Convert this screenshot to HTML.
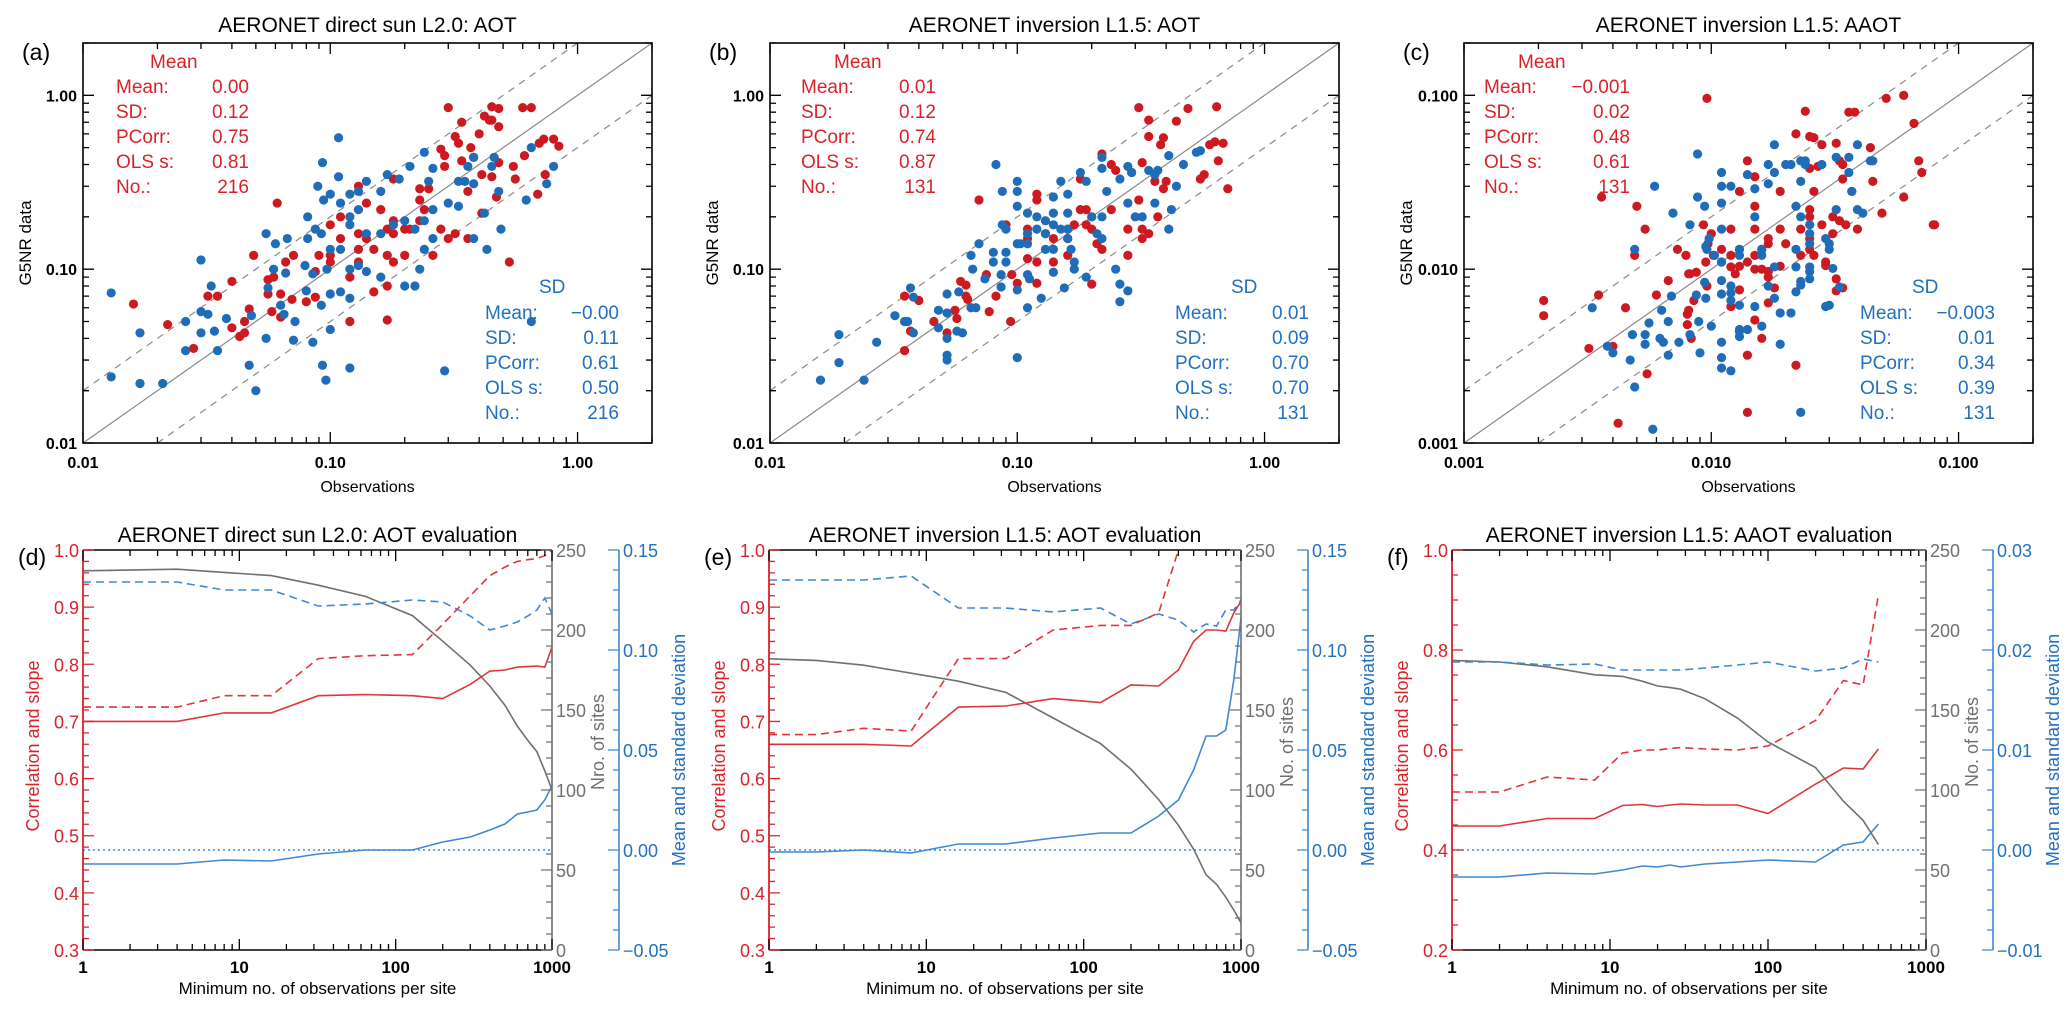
<!DOCTYPE html>
<html><head><meta charset="utf-8"><title>G5NR vs AERONET</title>
<style>
html,body{margin:0;padding:0;background:#fff;}
svg{display:block;font-family:"Liberation Sans",Arial,sans-serif;}
</style></head>
<body>
<svg id="fig" width="2067" height="1013" viewBox="0 0 2067 1013" xmlns="http://www.w3.org/2000/svg"></svg>
<script>
// ---------- scatter data (obs, model) ----------
const aRed=[[0.3,0.85],[0.45,0.86],[0.48,0.84],[0.6,0.85],[0.65,0.85],[0.34,0.7],[0.42,0.76],[0.44,0.72],[0.45,0.72],[0.48,0.66],[0.32,0.58],[0.4,0.6],[0.37,0.5],[0.33,0.53],[0.73,0.56],[0.8,0.56],[0.84,0.51],[0.7,0.53],[0.28,0.49],[0.29,0.45],[0.38,0.44],[0.34,0.42],[0.48,0.41],[0.55,0.39],[0.61,0.45],[0.29,0.39],[0.41,0.35],[0.45,0.34],[0.56,0.33],[0.74,0.35],[0.69,0.27],[0.47,0.26],[0.23,0.29],[0.25,0.29],[0.18,0.33],[0.13,0.3],[0.061,0.24],[0.23,0.25],[0.24,0.22],[0.41,0.21],[0.36,0.28],[0.14,0.24],[0.16,0.22],[0.18,0.19],[0.2,0.17],[0.23,0.19],[0.28,0.17],[0.32,0.16],[0.36,0.15],[0.3,0.15],[0.11,0.2],[0.1,0.18],[0.13,0.16],[0.14,0.15],[0.17,0.17],[0.18,0.16],[0.21,0.17],[0.11,0.15],[0.13,0.13],[0.15,0.13],[0.17,0.12],[0.18,0.11],[0.2,0.12],[0.1,0.12],[0.09,0.12],[0.1,0.11],[0.13,0.11],[0.26,0.12],[0.53,0.11],[0.049,0.12],[0.071,0.12],[0.066,0.11],[0.056,0.087],[0.059,0.09],[0.087,0.097],[0.12,0.09],[0.17,0.08],[0.15,0.074],[0.04,0.085],[0.032,0.07],[0.035,0.07],[0.016,0.063],[0.056,0.072],[0.063,0.072],[0.07,0.067],[0.08,0.065],[0.087,0.069],[0.047,0.059],[0.058,0.057],[0.063,0.053],[0.12,0.05],[0.17,0.051],[0.045,0.05],[0.04,0.046],[0.043,0.041],[0.045,0.043],[0.022,0.048],[0.028,0.035]];
const aBlue=[[0.108,0.57],[0.093,0.41],[0.108,0.34],[0.089,0.3],[0.1,0.27],[0.094,0.25],[0.12,0.27],[0.13,0.28],[0.14,0.32],[0.16,0.28],[0.17,0.35],[0.19,0.33],[0.21,0.39],[0.24,0.47],[0.26,0.38],[0.25,0.32],[0.38,0.44],[0.36,0.39],[0.46,0.44],[0.45,0.39],[0.65,0.5],[0.8,0.39],[0.75,0.31],[0.62,0.25],[0.35,0.32],[0.33,0.32],[0.38,0.31],[0.48,0.28],[0.42,0.21],[0.49,0.17],[0.43,0.13],[0.65,0.05],[0.3,0.24],[0.26,0.22],[0.33,0.23],[0.24,0.19],[0.22,0.17],[0.38,0.15],[0.081,0.2],[0.11,0.24],[0.12,0.2],[0.13,0.22],[0.12,0.18],[0.14,0.16],[0.16,0.16],[0.18,0.18],[0.2,0.19],[0.055,0.16],[0.06,0.14],[0.067,0.15],[0.081,0.15],[0.087,0.17],[0.092,0.16],[0.1,0.13],[0.11,0.13],[0.24,0.13],[0.26,0.15],[0.23,0.1],[0.2,0.08],[0.22,0.08],[0.059,0.1],[0.066,0.095],[0.079,0.105],[0.085,0.094],[0.097,0.1],[0.12,0.1],[0.13,0.105],[0.14,0.097],[0.16,0.09],[0.03,0.113],[0.033,0.08],[0.056,0.078],[0.08,0.075],[0.1,0.072],[0.11,0.074],[0.12,0.068],[0.013,0.073],[0.03,0.057],[0.032,0.055],[0.026,0.05],[0.038,0.052],[0.048,0.054],[0.072,0.05],[0.065,0.055],[0.063,0.062],[0.092,0.062],[0.1,0.045],[0.085,0.038],[0.071,0.039],[0.055,0.04],[0.03,0.043],[0.034,0.044],[0.017,0.043],[0.026,0.034],[0.035,0.034],[0.013,0.024],[0.017,0.022],[0.021,0.022],[0.047,0.028],[0.05,0.02],[0.093,0.028],[0.096,0.023],[0.12,0.027],[0.29,0.026]];
const bRed=[[0.31,0.85],[0.34,0.72],[0.44,0.71],[0.49,0.84],[0.64,0.86],[0.34,0.58],[0.39,0.57],[0.38,0.52],[0.6,0.52],[0.63,0.54],[0.68,0.53],[0.22,0.46],[0.24,0.4],[0.25,0.37],[0.32,0.41],[0.65,0.42],[0.55,0.33],[0.57,0.35],[0.71,0.29],[0.36,0.32],[0.4,0.32],[0.39,0.29],[0.29,0.36],[0.07,0.25],[0.12,0.27],[0.12,0.25],[0.18,0.33],[0.18,0.22],[0.19,0.22],[0.2,0.2],[0.19,0.18],[0.2,0.17],[0.24,0.22],[0.31,0.25],[0.37,0.2],[0.16,0.17],[0.17,0.18],[0.14,0.15],[0.16,0.15],[0.21,0.14],[0.22,0.13],[0.09,0.18],[0.11,0.17],[0.13,0.16],[0.11,0.15],[0.28,0.17],[0.32,0.17],[0.32,0.15],[0.34,0.16],[0.28,0.12],[0.11,0.115],[0.12,0.11],[0.14,0.11],[0.16,0.12],[0.075,0.093],[0.095,0.093],[0.1,0.083],[0.12,0.083],[0.2,0.082],[0.059,0.085],[0.062,0.081],[0.062,0.07],[0.063,0.067],[0.082,0.07],[0.035,0.07],[0.04,0.066],[0.077,0.057],[0.094,0.05],[0.056,0.058],[0.057,0.052],[0.046,0.05],[0.052,0.043],[0.037,0.044],[0.035,0.034]];
const bBlue=[[0.082,0.4],[0.1,0.32],[0.1,0.28],[0.087,0.28],[0.15,0.32],[0.16,0.27],[0.14,0.26],[0.1,0.23],[0.18,0.36],[0.19,0.32],[0.22,0.44],[0.22,0.38],[0.26,0.33],[0.28,0.39],[0.29,0.36],[0.23,0.28],[0.41,0.45],[0.47,0.4],[0.53,0.47],[0.55,0.48],[0.34,0.37],[0.37,0.37],[0.36,0.35],[0.44,0.3],[0.42,0.22],[0.41,0.17],[0.36,0.24],[0.28,0.24],[0.3,0.2],[0.32,0.2],[0.22,0.2],[0.2,0.2],[0.11,0.21],[0.12,0.2],[0.13,0.19],[0.14,0.21],[0.16,0.21],[0.14,0.18],[0.15,0.17],[0.16,0.17],[0.12,0.17],[0.13,0.16],[0.11,0.16],[0.087,0.18],[0.09,0.17],[0.07,0.14],[0.1,0.14],[0.103,0.14],[0.11,0.14],[0.13,0.13],[0.14,0.13],[0.16,0.15],[0.21,0.16],[0.22,0.15],[0.065,0.12],[0.08,0.125],[0.09,0.125],[0.09,0.11],[0.08,0.11],[0.165,0.13],[0.17,0.11],[0.17,0.1],[0.25,0.1],[0.19,0.09],[0.066,0.1],[0.074,0.088],[0.086,0.093],[0.11,0.093],[0.112,0.088],[0.14,0.096],[0.086,0.079],[0.1,0.076],[0.26,0.082],[0.28,0.075],[0.155,0.078],[0.26,0.065],[0.037,0.078],[0.038,0.069],[0.052,0.072],[0.058,0.074],[0.065,0.06],[0.068,0.06],[0.11,0.06],[0.125,0.068],[0.032,0.054],[0.035,0.05],[0.036,0.05],[0.048,0.058],[0.052,0.056],[0.048,0.046],[0.038,0.043],[0.057,0.044],[0.06,0.043],[0.052,0.04],[0.027,0.038],[0.019,0.042],[0.052,0.032],[0.052,0.03],[0.1,0.031],[0.019,0.029],[0.016,0.023],[0.024,0.023]];
const cRed=[[0.0096,0.096],[0.051,0.096],[0.06,0.1],[0.024,0.081],[0.036,0.08],[0.038,0.08],[0.066,0.069],[0.022,0.06],[0.025,0.058],[0.026,0.057],[0.028,0.052],[0.032,0.053],[0.044,0.05],[0.014,0.042],[0.033,0.042],[0.069,0.042],[0.071,0.036],[0.025,0.038],[0.027,0.039],[0.034,0.04],[0.015,0.034],[0.034,0.033],[0.045,0.032],[0.0036,0.026],[0.013,0.028],[0.026,0.028],[0.019,0.028],[0.037,0.028],[0.06,0.026],[0.005,0.023],[0.015,0.023],[0.025,0.022],[0.049,0.021],[0.079,0.018],[0.08,0.018],[0.0054,0.017],[0.0093,0.018],[0.019,0.017],[0.023,0.017],[0.025,0.02],[0.028,0.018],[0.031,0.02],[0.033,0.019],[0.035,0.018],[0.039,0.017],[0.01,0.016],[0.012,0.017],[0.015,0.017],[0.017,0.015],[0.02,0.014],[0.025,0.015],[0.031,0.016],[0.0073,0.013],[0.0079,0.012],[0.0097,0.014],[0.0102,0.012],[0.011,0.013],[0.012,0.012],[0.013,0.013],[0.014,0.011],[0.015,0.012],[0.016,0.013],[0.017,0.014],[0.023,0.012],[0.025,0.013],[0.026,0.012],[0.0049,0.012],[0.0095,0.011],[0.011,0.011],[0.012,0.0103],[0.013,0.0104],[0.015,0.01],[0.016,0.01],[0.017,0.0097],[0.019,0.0104],[0.029,0.011],[0.029,0.0105],[0.0087,0.0096],[0.0081,0.0094],[0.0082,0.0094],[0.0067,0.0086],[0.0096,0.008],[0.0125,0.0094],[0.017,0.009],[0.018,0.0078],[0.032,0.0088],[0.032,0.0075],[0.034,0.0078],[0.006,0.0071],[0.0085,0.0066],[0.013,0.0076],[0.012,0.0061],[0.017,0.0064],[0.0035,0.0071],[0.0045,0.006],[0.0021,0.0066],[0.0021,0.0054],[0.0081,0.0058],[0.008,0.0055],[0.008,0.0048],[0.015,0.0051],[0.013,0.0044],[0.016,0.004],[0.0083,0.004],[0.004,0.0036],[0.0032,0.0035],[0.014,0.0032],[0.022,0.0028],[0.0055,0.0025],[0.014,0.0015],[0.0042,0.0013]];
const cBlue=[[0.0088,0.046],[0.018,0.052],[0.039,0.052],[0.044,0.042],[0.045,0.042],[0.023,0.042],[0.024,0.042],[0.024,0.04],[0.028,0.04],[0.017,0.04],[0.02,0.04],[0.021,0.04],[0.032,0.044],[0.036,0.044],[0.011,0.036],[0.014,0.035],[0.018,0.036],[0.036,0.036],[0.0059,0.03],[0.011,0.03],[0.012,0.03],[0.015,0.029],[0.017,0.031],[0.023,0.032],[0.0088,0.026],[0.0094,0.023],[0.011,0.024],[0.037,0.028],[0.022,0.023],[0.032,0.022],[0.039,0.022],[0.041,0.021],[0.007,0.021],[0.0082,0.018],[0.011,0.017],[0.015,0.02],[0.023,0.02],[0.025,0.018],[0.025,0.016],[0.0098,0.015],[0.0095,0.0135],[0.0096,0.013],[0.013,0.013],[0.016,0.013],[0.022,0.013],[0.025,0.014],[0.029,0.015],[0.03,0.014],[0.03,0.013],[0.0049,0.013],[0.0103,0.012],[0.011,0.011],[0.013,0.012],[0.016,0.012],[0.018,0.0103],[0.022,0.0103],[0.025,0.0103],[0.031,0.0101],[0.025,0.0097],[0.0094,0.0084],[0.011,0.0086],[0.012,0.008],[0.012,0.0073],[0.011,0.0072],[0.017,0.008],[0.023,0.0085],[0.023,0.0081],[0.022,0.0074],[0.025,0.0088],[0.033,0.0079],[0.0069,0.007],[0.0087,0.0071],[0.0095,0.0068],[0.012,0.0066],[0.013,0.0062],[0.015,0.0061],[0.018,0.0068],[0.029,0.0061],[0.03,0.0062],[0.0033,0.006],[0.0063,0.0058],[0.0056,0.0049],[0.0067,0.005],[0.0089,0.005],[0.019,0.0056],[0.021,0.0056],[0.01,0.0047],[0.016,0.0047],[0.0048,0.0042],[0.0054,0.0042],[0.0082,0.0042],[0.013,0.0045],[0.013,0.0041],[0.014,0.0045],[0.0062,0.004],[0.0064,0.0038],[0.0074,0.0038],[0.011,0.0038],[0.019,0.0037],[0.0054,0.0037],[0.0038,0.0036],[0.004,0.0033],[0.0047,0.003],[0.0067,0.0032],[0.009,0.0033],[0.011,0.0031],[0.011,0.0027],[0.012,0.0026],[0.0049,0.0021],[0.0058,0.0012],[0.023,0.0015]];
// ---------- statistics ----------
const statLabels=["Mean:","SD:","PCorr:","OLS s:","No.:"];
const aMeanStats=["0.00","0.12","0.75","0.81","216"];
const aSdStats=["\u22120.00","0.11","0.61","0.50","216"];
const bMeanStats=["0.01","0.12","0.74","0.87","131"];
const bSdStats=["0.01","0.09","0.70","0.70","131"];
const cMeanStats=["\u22120.001","0.02","0.48","0.61","131"];
const cSdStats=["\u22120.003","0.01","0.34","0.39","131"];
// ---------- evaluation line data ----------
const dX=[1,4,8,16,32,64,128,200,300,400,500,600,700,800,900,1000];
const dCorr=[0.70,0.70,0.715,0.715,0.745,0.747,0.745,0.74,0.765,0.788,0.79,0.795,0.796,0.797,0.795,0.83];
const dSlope=[0.725,0.725,0.745,0.745,0.81,0.815,0.817,0.87,0.92,0.955,0.97,0.98,0.983,0.985,0.99,1.0];
const dSites=[237,238,236,234,228,221,209,193,178,165,153,140,131,124,112,100];
const dMean=[-0.007,-0.007,-0.005,-0.0055,-0.002,0.0,0.0,0.004,0.0065,0.01,0.013,0.018,0.019,0.02,0.025,0.032];
const dSd=[0.134,0.134,0.13,0.13,0.122,0.123,0.125,0.124,0.117,0.11,0.112,0.114,0.117,0.12,0.126,0.118];
const eX=[1,2,4,8,16,32,64,128,200,300,400,500,600,700,800,900,1000];
const eCorr=[0.66,0.66,0.66,0.657,0.725,0.727,0.74,0.733,0.764,0.762,0.79,0.84,0.86,0.86,0.858,0.89,0.91];
const eSlopeX=[1,2,4,8,16,32,64,128,200,300,400];
const eSlope=[0.677,0.677,0.688,0.683,0.81,0.81,0.86,0.868,0.868,0.89,1.0];
const eSites=[182,181,178,173,168,161,145,129,113,94,78,63,47,41,33,25,17];
const eMean=[-0.001,-0.001,0.0,-0.0015,0.003,0.003,0.006,0.0085,0.0085,0.017,0.025,0.04,0.057,0.057,0.06,0.085,0.116];
const eSd=[0.135,0.135,0.135,0.137,0.121,0.121,0.119,0.121,0.113,0.118,0.115,0.109,0.113,0.112,0.12,0.12,0.125];
const fX=[1,2,4,8,12,16,20,24,28,40,64,100,200,300,400,500];
const fCorr=[0.448,0.448,0.463,0.463,0.489,0.491,0.487,0.49,0.492,0.49,0.49,0.473,0.532,0.564,0.562,0.602];
const fSlope=[0.516,0.516,0.546,0.54,0.594,0.6,0.6,0.603,0.605,0.602,0.6,0.608,0.659,0.739,0.73,0.91];
const fSites=[181,180,177,172,171,168,165,164,163,157,145,130,114,93,81,66];
const fMean=[-0.0027,-0.0027,-0.0023,-0.0024,-0.002,-0.0016,-0.0017,-0.0015,-0.0017,-0.0014,-0.0012,-0.001,-0.0012,0.0005,0.0008,0.0026];
const fSd=[0.0188,0.0188,0.0185,0.0186,0.018,0.018,0.018,0.018,0.018,0.0182,0.0185,0.0188,0.0179,0.0182,0.0191,0.0188];

const RED="#d8232a", BLUE="#2270bf", LRED="#e0353b", LBLUE="#3f88d2", GRAY="#707070";
const svg=document.getElementById('fig');
const NS="http://www.w3.org/2000/svg";
function el(tag,attrs,parent){const e=document.createElementNS(NS,tag);for(const k in attrs)e.setAttribute(k,attrs[k]);(parent||svg).appendChild(e);return e;}
function txt(s,x,y,size,fill,anchor,parent,extra){const t=el('text',Object.assign({x:x,y:y,'font-size':size,fill:fill,'text-anchor':anchor||'start'},extra||{}),parent);t.textContent=s;return t;}
function lg(v){return Math.log10(v);}
function logPos(v,v0,v1,p0,p1){return p0+(lg(v)-lg(v0))/(lg(v1)-lg(v0))*(p1-p0);}
function linPos(v,v0,v1,p0,p1){return p0+(v-v0)/(v1-v0)*(p1-p0);}

// ---------- scatter panels ----------
function scatter(cfg){
  const g=el('g',{});
  
  
  const L=cfg.L,R=cfg.L+569,T=43,B=443;
  const xp=v=>logPos(v,cfg.min,cfg.max,L,R), yp=v=>logPos(v,cfg.min,cfg.max,B,T);
  const t=txt(cfg.title,(L+R)/2,32,21,'#000','middle',g);
  
  const pl=txt(cfg.label,L-61,60,23,'#000','start',g);
  
  // reference lines
  const lines=[[1,'none'],[2,'7,6'],[0.5,'7,6']];
  lines.forEach(([f,d])=>{
    const x0=cfg.min,x1=cfg.max;
    let ya=x0*f,yb=x1*f,xa=x0,xb=x1;
    if(ya<cfg.min){ya=cfg.min;xa=cfg.min/f;} if(yb>cfg.max){yb=cfg.max;xb=cfg.max/f;}
    const ln=el('line',{x1:xp(xa),y1:yp(ya),x2:xp(xb),y2:yp(yb),stroke:'#8a8a8a','stroke-width':1.2,'stroke-dasharray':d},g);
    
    
  });
  // points
  cfg.red.forEach(p=>{const c=el('circle',{cx:xp(p[0]),cy:yp(p[1]),r:4.6,fill:'#cc1a20'},g);
    });
  cfg.blue.forEach(p=>{const c=el('circle',{cx:xp(p[0]),cy:yp(p[1]),r:4.6,fill:'#1f6db8'},g);
    });
  // box
  const box=el('rect',{x:L,y:T,width:R-L,height:B-T,fill:'none',stroke:'#000','stroke-width':1.6},g);
  
  // ticks
  let tk='';
  const d0=Math.round(lg(cfg.min)), d1=Math.ceil(lg(cfg.max));
  for(let d=d0;d<=d1;d++){for(let m=1;m<10;m++){const v=m*Math.pow(10,d);if(v<cfg.min-1e-12||v>cfg.max+1e-12)continue;
    const len=m===1?11:6;const x=xp(v),y=yp(v);
    tk+=`M${x},${B}v${-len}M${x},${T}v${len}M${L},${y}h${len}M${R},${y}h${-len}`;}}
  el('path',{d:tk,stroke:'#000','stroke-width':1.3,fill:'none'},g);
  cfg.ticks.forEach((s,i)=>{const v=cfg.min*Math.pow(10,i);
    const a=txt(s,xp(v),468,16,'#000','middle',g,{'font-weight':'bold'});
    
    const b=txt(s,L-6,yp(v)+6,16,'#000','end',g,{'font-weight':'bold'});
    });
  const xt=txt('Observations',(L+R)/2,492,16,'#000','middle',g);
  
  const yt=txt('G5NR data',0,0,17,'#000','middle',g,{transform:`translate(${L-52},243) rotate(-90)`});
  
  // stats
  const sm=el('g',{},g);
  
  txt('Mean',L+cfg.mh,68,19,RED,'start',sm);
  statLabels.forEach((s,i)=>{txt(s,L+cfg.ml,93+25*i,19,RED,'start',sm);txt(cfg.meanStats[i],L+166,93+25*i,19,RED,'end',sm);});
  const ss=el('g',{},g);
  
  txt('SD',L+cfg.sh,293,19,BLUE,'start',ss);
  statLabels.forEach((s,i)=>{txt(s,L+cfg.sl,319+25*i,19,BLUE,'start',ss);txt(cfg.sdStats[i],L+cfg.sr,319+25*i,19,BLUE,'end',ss);});
}
scatter({name:'panel-a',L:83,min:0.01,max:2,title:'AERONET direct sun L2.0: AOT',label:'(a)',red:aRed,blue:aBlue,ticks:['0.01','0.10','1.00'],meanStats:aMeanStats,sdStats:aSdStats,mh:67,ml:33,sh:456,sl:402,sr:536});
scatter({name:'panel-b',L:770,min:0.01,max:2,title:'AERONET inversion L1.5: AOT',label:'(b)',red:bRed,blue:bBlue,ticks:['0.01','0.10','1.00'],meanStats:bMeanStats,sdStats:bSdStats,mh:64,ml:31,sh:461,sl:405,sr:539});
scatter({name:'panel-c',L:1464,min:0.001,max:0.2,title:'AERONET inversion L1.5: AAOT',label:'(c)',red:cRed,blue:cBlue,ticks:['0.001','0.010','0.100'],meanStats:cMeanStats,sdStats:cSdStats,mh:54,ml:20,sh:448,sl:396,sr:531});

// ---------- evaluation panels ----------
function evalPanel(cfg){
  const g=el('g',{});
  
  
  const L=cfg.L,R=cfg.R,T=550,B=950,BX=R+67;
  const xp=v=>logPos(v,1,1000,L,R);
  const yl=v=>linPos(v,cfg.lmin,cfg.lmax,B,T);
  const yg=v=>linPos(v,0,250,B,T);
  const yb=v=>linPos(v,cfg.bmin,cfg.bmax,B,T);
  const t=txt(cfg.title,(L+R)/2,542,21,'#000','middle',g);
  
  const pl=txt(cfg.label,L-65,565,23,'#000','start',g);
  
  // zero line
  const z=el('line',{x1:L,x2:R,y1:yb(0),y2:yb(0),stroke:LBLUE,'stroke-width':1.5,'stroke-dasharray':'2,3'},g);
  
  function series(xs,ys,yf,col,dash,name){
    const d=xs.map((x,i)=>(i?'L':'M')+xp(x).toFixed(1)+','+yf(ys[i]).toFixed(1)).join('');
    const p=el('path',{d:d,fill:'none',stroke:col,'stroke-width':1.6,'stroke-dasharray':dash},g);
    
  }
  series(cfg.x,cfg.sites,yg,GRAY,'none','sites-line');
  series(cfg.x,cfg.sd,yb,LBLUE,'8,5','sd-line');
  series(cfg.x,cfg.mean,yb,LBLUE,'none','mean-line');
  series(cfg.slopeX||cfg.x,cfg.slope,yl,LRED,'8,5','slope-line');
  series(cfg.x,cfg.corr,yl,LRED,'none','correlation-line');
  // frame
  el('line',{x1:L,x2:R,y1:T,y2:T,stroke:'#000','stroke-width':1.6},g);
  el('line',{x1:L,x2:R,y1:B,y2:B,stroke:'#000','stroke-width':1.6},g);
  el('line',{x1:L,x2:L,y1:T,y2:B,stroke:RED,'stroke-width':1.8},g);
  el('line',{x1:R,x2:R,y1:T,y2:B,stroke:GRAY,'stroke-width':1.6},g);
  el('line',{x1:BX,x2:BX,y1:T,y2:B,stroke:LBLUE,'stroke-width':1.6},g);
  // x ticks
  let tk='';
  for(let d=0;d<3;d++)for(let m=1;m<10;m++){const x=xp(m*Math.pow(10,d));const len=m===1?11:6;tk+=`M${x},${B}v${-len}M${x},${T}v${len}`;}
  tk+=`M${R},${B}v-11M${R},${T}v11`;
  el('path',{d:tk,stroke:'#000','stroke-width':1.3,fill:'none'},g);
  ['1','10','100','1000'].forEach((s,i)=>{const a=txt(s,xp(Math.pow(10,i)),973,17,'#000','middle',g,{'font-weight':'bold'});
    });
  const xt=txt('Minimum no. of observations per site',(L+R)/2,994,17,'#000','middle',g);
  
  // left axis
  let lt='';const nl=Math.round((cfg.lmax-cfg.lmin)/cfg.lminor);
  for(let i=0;i<=nl;i++){const v=cfg.lmin+i*cfg.lminor;const maj=Math.abs(Math.round(v/cfg.lstep)*cfg.lstep-v)<1e-9;lt+=`M${L},${yl(v)}h${maj?11:6}`;}
  el('path',{d:lt,stroke:RED,'stroke-width':1.3},g);
  cfg.lticks.forEach(s=>{const a=txt(s,L-4,yl(parseFloat(s))+7,18,RED,'end',g);
    });
  // gray axis
  let gt='';for(let v=0;v<=250;v+=10){gt+=`M${R},${yg(v)}h${v%50===0?-11:-6}`;}
  el('path',{d:gt,stroke:GRAY,'stroke-width':1.3},g);
  ['0','50','100','150','200','250'].forEach(s=>{const a=txt(s,R+4,yg(+s)+7,18,GRAY,'start',g);
    });
  // blue axis
  let bt='';const nb=Math.round((cfg.bmax-cfg.bmin)/cfg.bminor);
  for(let i=0;i<=nb;i++){const v=cfg.bmin+i*cfg.bminor;const maj=Math.abs(Math.round(v/cfg.bstep)*cfg.bstep-v)<1e-9;bt+=`M${BX},${yb(v)}h${maj?-11:-6}`;}
  el('path',{d:bt,stroke:LBLUE,'stroke-width':1.3},g);
  cfg.bticks.forEach(s=>{const a=txt(s,BX+4,yb(parseFloat(s.replace('\u2212','-')))+7,18,BLUE,'start',g);
    });
  const t1=txt('Correlation and slope',0,0,18,RED,'middle',g,{transform:`translate(${L-44},746) rotate(-90)`});
  
  const t2=txt(cfg.sitesTitle,0,0,18,GRAY,'middle',g,{transform:`translate(${R+52},742) rotate(-90)`});
  
  const t3=txt('Mean and standard deviation',0,0,18,BLUE,'middle',g,{transform:`translate(${BX+66},750) rotate(-90)`});
  
}
const lt37=['0.3','0.4','0.5','0.6','0.7','0.8','0.9','1.0'];
const bt15=['\u22120.05','0.00','0.05','0.10','0.15'];
evalPanel({name:'panel-d',L:83,R:552,title:'AERONET direct sun L2.0: AOT evaluation',label:'(d)',x:dX,corr:dCorr,slope:dSlope,sites:dSites,mean:dMean,sd:dSd,lmin:0.3,lmax:1.0,lstep:0.1,lminor:0.02,lticks:lt37,bmin:-0.05,bmax:0.15,bstep:0.05,bminor:0.01,bticks:bt15,sitesTitle:'Nro. of sites'});
evalPanel({name:'panel-e',L:769,R:1241,title:'AERONET inversion L1.5: AOT evaluation',label:'(e)',x:eX,corr:eCorr,slopeX:eSlopeX,slope:eSlope,sites:eSites,mean:eMean,sd:eSd,lmin:0.3,lmax:1.0,lstep:0.1,lminor:0.02,lticks:lt37,bmin:-0.05,bmax:0.15,bstep:0.05,bminor:0.01,bticks:bt15,sitesTitle:'No. of sites'});
evalPanel({name:'panel-f',L:1452,R:1926,title:'AERONET inversion L1.5: AAOT evaluation',label:'(f)',x:fX,corr:fCorr,slope:fSlope,sites:fSites,mean:fMean,sd:fSd,lmin:0.2,lmax:1.0,lstep:0.2,lminor:0.05,lticks:['0.2','0.4','0.6','0.8','1.0'],bmin:-0.01,bmax:0.03,bstep:0.01,bminor:0.002,bticks:['\u22120.01','0.00','0.01','0.02','0.03'],sitesTitle:'No. of sites'});
</script>
</body></html>
